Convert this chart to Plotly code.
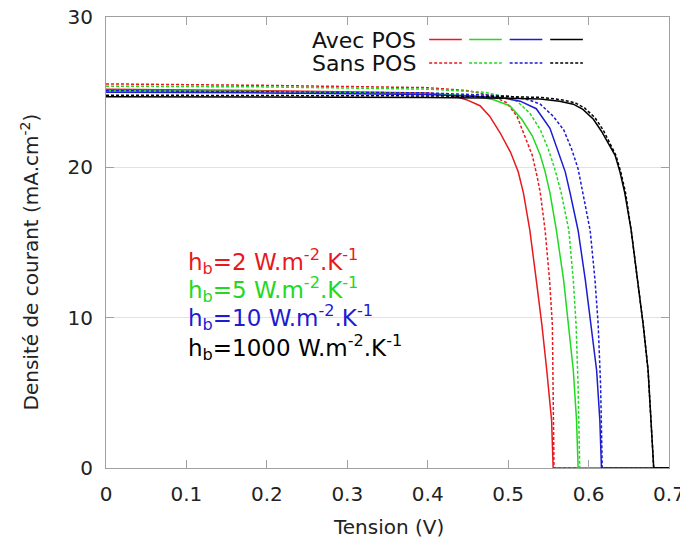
import plotly.graph_objects as go

# ---- data (Tension V, Densité de courant mA.cm-2) ----
v_red_avec = [0, 0.2, 0.4, 0.43, 0.448, 0.465, 0.477, 0.490, 0.503, 0.5125, 0.519, 0.527, 0.535, 0.542, 0.548, 0.554, 0.556, 0.7]
j_red_avec = [25.2, 25.1, 24.95, 24.8, 24.5, 24.1, 23.4, 22.3, 21.0, 19.7, 18.3, 15.8, 12.5, 9.5, 6.5, 3.2, 0, 0]
v_red_sans = [0, 0.2, 0.4, 0.45, 0.48, 0.498, 0.511, 0.521, 0.530, 0.536, 0.540, 0.546, 0.5515, 0.555, 0.556, 0.557, 0.7]
j_red_sans = [25.55, 25.45, 25.3, 25.1, 24.75, 24.3, 23.4, 22.1, 20.8, 19.4, 18.3, 15.8, 12.5, 9.5, 5.4, 0, 0]

v_green_avec = [0, 0.2, 0.4, 0.46, 0.482, 0.502, 0.517, 0.530, 0.540, 0.546, 0.552, 0.560, 0.569, 0.575, 0.581, 0.585, 0.587, 0.7]
j_green_avec = [25.1, 25.05, 24.9, 24.75, 24.5, 24.1, 23.2, 22.1, 20.8, 19.7, 18.3, 15.8, 12.5, 9.5, 6.5, 3.2, 0, 0]
v_green_sans = [0, 0.2, 0.4, 0.47, 0.495, 0.511, 0.527, 0.540, 0.550, 0.558, 0.566, 0.5755, 0.581, 0.5845, 0.587, 0.589, 0.7]
j_green_sans = [25.4, 25.35, 25.2, 25.0, 24.7, 24.4, 23.6, 22.5, 21.2, 19.9, 18.3, 15.8, 12.5, 9.5, 5.4, 0, 0]

v_blue_avec = [0, 0.2, 0.4, 0.49, 0.515, 0.535, 0.552, 0.563, 0.571, 0.577, 0.587, 0.596, 0.603, 0.610, 0.614, 0.616, 0.7]
j_blue_avec = [25.0, 24.95, 24.85, 24.65, 24.4, 23.9, 22.6, 21.0, 19.7, 18.3, 15.8, 12.5, 9.5, 6.5, 3.2, 0, 0]
v_blue_sans = [0, 0.2, 0.4, 0.5, 0.525, 0.540, 0.556, 0.569, 0.579, 0.587, 0.593, 0.602, 0.608, 0.612, 0.615, 0.617, 0.7]
j_blue_sans = [25.1, 25.05, 24.95, 24.75, 24.5, 24.2, 23.4, 22.5, 21.2, 19.9, 18.3, 15.8, 12.5, 9.5, 5.4, 0, 0]

v_black_avec = [0, 0.2, 0.4, 0.5, 0.540, 0.564, 0.581, 0.593, 0.606, 0.616, 0.625, 0.633, 0.639, 0.645, 0.653, 0.661, 0.668, 0.674, 0.678, 0.681, 0.7]
j_black_avec = [24.7, 24.68, 24.65, 24.6, 24.55, 24.4, 24.2, 23.85, 23.2, 22.4, 21.6, 20.8, 19.7, 18.3, 15.8, 12.5, 9.5, 6.5, 3.2, 0, 0]
v_black_sans = [0, 0.2, 0.4, 0.5, 0.542, 0.566, 0.583, 0.595, 0.608, 0.618, 0.626, 0.634, 0.640, 0.646, 0.653, 0.661, 0.668, 0.674, 0.678, 0.681, 0.7]
j_black_sans = [24.8, 24.78, 24.75, 24.7, 24.65, 24.5, 24.3, 23.95, 23.3, 22.5, 21.6, 20.8, 19.7, 18.3, 15.8, 12.5, 9.5, 6.5, 3.2, 0, 0]

x_ticks = [0, 0.1, 0.2, 0.3, 0.4, 0.5, 0.6, 0.7]
x_tick_labels = ["0", "0.1", "0.2", "0.3", "0.4", "0.5", "0.6", "0.7"]
y_ticks = [0, 10, 20, 30]
y_tick_labels = ["0", "10", "20", "30"]

hb_labels = ["h<sub>b</sub>=2 W.m<sup>-2</sup>.K<sup>-1</sup>",
             "h<sub>b</sub>=5 W.m<sup>-2</sup>.K<sup>-1</sup>",
             "h<sub>b</sub>=10 W.m<sup>-2</sup>.K<sup>-1</sup>",
             "h<sub>b</sub>=1000 W.m<sup>-2</sup>.K<sup>-1</sup>"]

RED, GREEN, BLUE, BLACK = "#e8191c", "#22d822", "#1c1cd0", "#000000"
colors = [RED, GREEN, BLUE, BLACK]
DASH = "3px,2px"
FONT = "DejaVu Sans"

series = [
    (v_red_avec, j_red_avec, RED, "solid"),
    (v_red_sans, j_red_sans, RED, DASH),
    (v_green_avec, j_green_avec, GREEN, "solid"),
    (v_green_sans, j_green_sans, GREEN, DASH),
    (v_blue_avec, j_blue_avec, BLUE, "solid"),
    (v_blue_sans, j_blue_sans, BLUE, DASH),
    (v_black_avec, j_black_avec, BLACK, "solid"),
    (v_black_sans, j_black_sans, BLACK, DASH),
]

fig = go.Figure()
for v, j, c, d in series:
    fig.add_trace(go.Scatter(x=v, y=j, mode="lines", line=dict(color=c, width=1.5, dash=d),
                             showlegend=False, hoverinfo="skip"))

axis_common = dict(showline=True, linecolor="#a0a0a0", linewidth=1, mirror="ticks",
                   ticks="inside", ticklen=8, tickcolor="#a0a0a0", zeroline=False,
                   tickfont=dict(family=FONT, size=20, color="#222222"),
                   ticklabelstandoff=8, automargin=False, ticklabeloverflow="allow")

fig.update_xaxes(range=[0, 0.7], tickvals=x_ticks, ticktext=x_tick_labels, showgrid=False, **axis_common)
fig.update_yaxes(range=[0, 30], tickvals=y_ticks, ticktext=y_tick_labels, showgrid=True,
                 gridcolor="#e2e2e2", gridwidth=1, **axis_common)

annotations = [
    dict(text="Tension (V)", x=0.501, y=-0.131, xref="paper", yref="paper", showarrow=False,
         xanchor="center", yanchor="middle", font=dict(family=FONT, size=20, color="#222222")),
    dict(text="Densité de courant (mA.cm<sup>-2</sup>)", x=-0.135, y=0.458, xref="paper", yref="paper",
         showarrow=False, textangle=-90, xanchor="center", yanchor="middle",
         font=dict(family=FONT, size=20, color="#222222")),
    dict(text="Avec POS", x=0.554, y=0.947, xref="paper", yref="paper", showarrow=False,
         xanchor="right", yanchor="middle", font=dict(family=FONT, size=22, color="#111111")),
    dict(text="Sans POS", x=0.554, y=0.898, xref="paper", yref="paper", showarrow=False,
         xanchor="right", yanchor="middle", font=dict(family=FONT, size=22, color="#111111")),
]
hb_y = [0.457, 0.395, 0.333, 0.268]
for lbl, c, yy in zip(hb_labels, colors, hb_y):
    annotations.append(dict(text=lbl, x=0.142, y=yy, xref="paper", yref="paper", showarrow=False,
                            xanchor="left", yanchor="middle", font=dict(family=FONT, size=23, color=c)))

shapes = []
leg_x0 = [0.574, 0.645, 0.717, 0.789]
leg_w = 0.058
for x0, c in zip(leg_x0, colors):
    shapes.append(dict(type="line", xref="paper", yref="paper", x0=x0, x1=x0 + leg_w, y0=0.950, y1=0.950,
                       line=dict(color=c, width=1.5)))
    shapes.append(dict(type="line", xref="paper", yref="paper", x0=x0, x1=x0 + leg_w, y0=0.898, y1=0.898,
                       line=dict(color=c, width=1.5, dash=DASH)))

# the page body adds an 8px margin; size and margins compensate so the plot area
# lands at x 106..669, y 17..468 in the 688x548 window
fig.update_layout(width=680, height=540, margin=dict(l=98, r=19, t=9, b=80),
                  paper_bgcolor="white", plot_bgcolor="white",
                  annotations=annotations, shapes=shapes, showlegend=False)

fig.write_html("out.html")
